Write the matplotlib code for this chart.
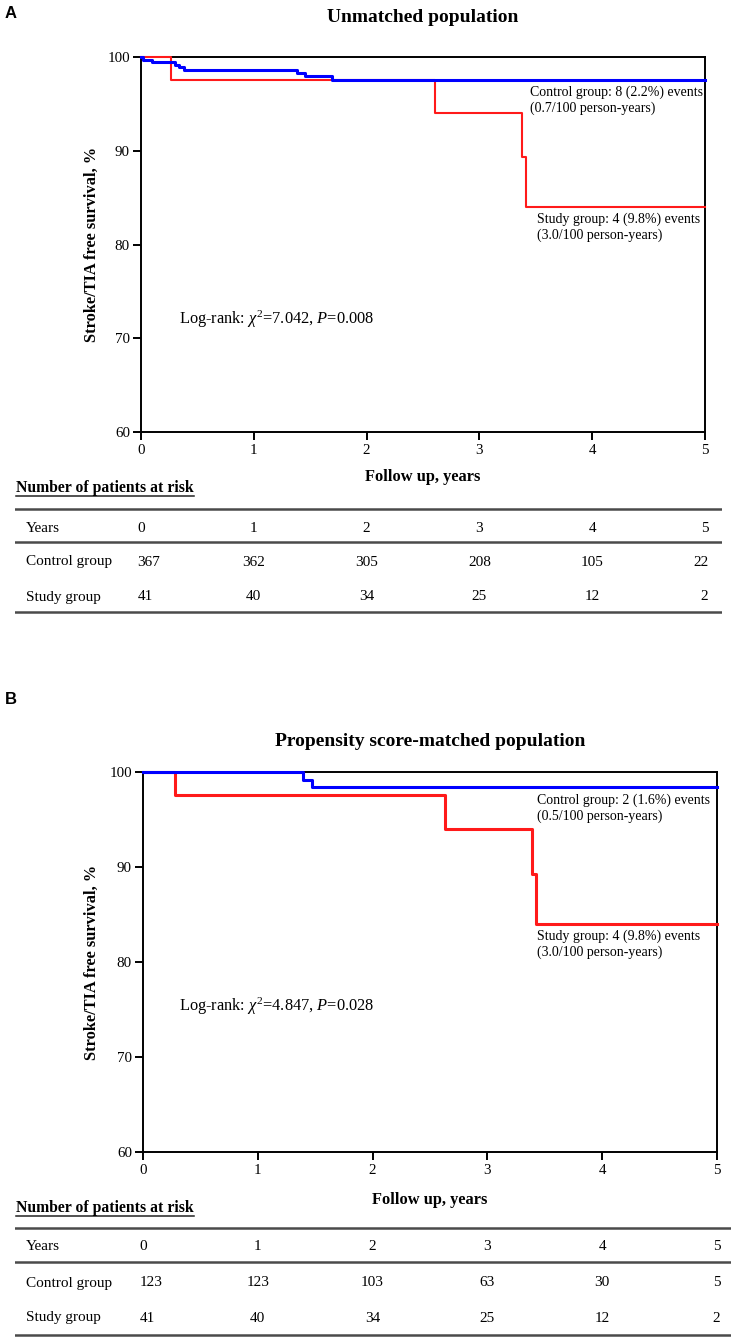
import matplotlib
matplotlib.use("Agg")
import matplotlib.pyplot as plt

plt.rcParams['font.family'] = ['Liberation Serif', 'DejaVu Serif']
plt.rcParams['mathtext.fontset'] = 'custom'
plt.rcParams['mathtext.rm'] = 'Liberation Serif'
plt.rcParams['mathtext.it'] = 'Liberation Serif:italic'
plt.rcParams['mathtext.bf'] = 'Liberation Serif:bold'

# ---- data ----
years = [0, 1, 2, 3, 4, 5]

# panel A, unmatched
ctrl_a_t = [0, 0.02, 0.095, 0.30, 0.34, 0.38, 1.38, 1.45, 1.69, 5.0]
ctrl_a_s = [100, 99.73, 99.46, 99.18, 98.91, 98.64, 98.3, 97.95, 97.6, 97.6]
study_a_t = [0, 0.27, 2.61, 3.38, 3.41, 5.0]
study_a_s = [100, 97.56, 94.0, 89.3, 84.0, 84.0]
risk_ctrl_a = [367, 362, 305, 208, 105, 22]
risk_study_a = [41, 40, 34, 25, 12, 2]

# panel B, propensity matched
ctrl_b_t = [0, 1.39, 1.47, 5.0]
ctrl_b_s = [100, 99.19, 98.37, 98.37]
study_b_t = [0, 0.28, 2.63, 3.39, 3.42, 5.0]
study_b_s = [100, 97.56, 94.0, 89.3, 84.0, 84.0]
risk_ctrl_b = [123, 123, 103, 63, 30, 5]
risk_study_b = [41, 40, 34, 25, 12, 2]

W, H = 733, 1339
fig = plt.figure(figsize=(W / 100, H / 100), dpi=100)


def box(l, t, r, b):
    return [l / W, 1 - b / H, (r - l) / W, (b - t) / H]


def panel(letter, letter_y, title, title_y, ax_px, curves, ctrl_txt, study_txt,
          ctrl_y, study_y, logrank, logrank_y, tbl_px, rows_y, lines_y, risk_c, risk_s,
          red_lw):
    l, t, r, b = ax_px
    ax = fig.add_axes(box(l, t, r, b))
    (ct, cs), (st, ss) = curves
    ax.step(st, ss, where='post', color='#ff1a1a', lw=red_lw, clip_on=False, zorder=5)
    ax.step(ct, cs, where='post', color='#0000ff', lw=2.2, clip_on=False, zorder=6)
    ax.set_xlim(0, 5)
    ax.set_ylim(60, 100)
    ax.set_xticks(years)
    ax.set_yticks([60, 70, 80, 90, 100])
    for s in ax.spines.values():
        s.set_linewidth(1.4)
    ax.tick_params(direction='out', length=6, width=1.4, labelsize=10.8, pad=2)
    ax.tick_params(axis='x', pad=3)
    hgt = b - t
    ax.set_xlabel('Follow up, years', fontsize=11.8, fontweight='bold')
    ax.xaxis.set_label_coords(0.5, -(title_y[1] - b) / hgt)
    ax.xaxis.label.set_va('center')
    ax.set_ylabel('Stroke/TIA free survival, %', fontsize=11.8, fontweight='bold')
    ax.yaxis.set_label_coords(-(l - 92) / (r - l), 0.5)
    ax.yaxis.label.set_va('center')

    fig.text(11 / W, 1 - letter_y / H, letter, family='Liberation Sans',
             fontweight='bold', fontsize=12, ha='center', va='center')
    fig.text((l + r) / 2 / W, 1 - title_y[0] / H, title, fontweight='bold',
             fontsize=14, ha='center', va='center')

    def tx(px):
        return (px - l) / (r - l) * 5

    def ty(py):
        return 60 + (b - py) / hgt * 40

    ax.text(tx(ctrl_txt), ty(ctrl_y), ctrl_lbl[letter], fontsize=10,
            va='center', linespacing=1.25)
    ax.text(tx(study_txt), ty(study_y), study_lbl[letter], fontsize=10,
            va='center', linespacing=1.25)
    ax.text(tx(179), ty(logrank_y), logrank, fontsize=11.8, va='center')

    # number at risk table
    tl, tt, tr, tb = tbl_px
    tax = fig.add_axes(box(tl, tt, tr, tb))
    tax.set_axis_off()
    tax.set_xlim(tx(tl), tx(tr))
    tax.set_ylim(tb, tt)
    hdr = tax.text(tx(16), rows_y[0], 'Number of patients at risk', fontsize=11.3,
                   fontweight='bold', va='center')
    fig.canvas.draw()
    bb = hdr.get_window_extent().transformed(tax.transData.inverted())
    tax.plot([bb.x0, bb.x1], [rows_y[0] + 8, rows_y[0] + 8], color='#222222', lw=1.1)
    for y in lines_y:
        tax.axhline(y, color='#4a4a4a', lw=1.8)
    names = ['Years', 'Control group', 'Study group']
    vals = [years, risk_c, risk_s]
    for name, yy, row in zip(names, rows_y[1:], vals):
        tax.text(tx(26), yy, name, fontsize=11, va='center')
        for k, v in enumerate(row):
            if k == 0:
                tax.text(k - 0.03, yy, str(v), fontsize=11, va='center', ha='left')
            elif k == len(row) - 1:
                tax.text(k + 0.03, yy, str(v), fontsize=11, va='center', ha='right')
            else:
                tax.text(k, yy, str(v), fontsize=11, va='center', ha='center')
    return ax


ctrl_lbl = {'A': 'Control group: 8 (2.2%) events\n(0.7/100 person-years)',
            'B': 'Control group: 2 (1.6%) events\n(0.5/100 person-years)'}
study_lbl = {'A': 'Study group: 4 (9.8%) events\n(3.0/100 person-years)',
             'B': 'Study group: 4 (9.8%) events\n(3.0/100 person-years)'}

panel('A', 13, 'Unmatched population', (17, 477), (141, 57, 705, 432),
      ((ctrl_a_t, ctrl_a_s), (study_a_t, study_a_s)), 530, 537, 100, 227,
      r'Log-rank: $\chi^2$=7.042, $P$=0.008', 319,
      (15, 478, 722, 620), [488, 528, 562, 597], [509, 542, 612],
      risk_ctrl_a, risk_study_a, 1.5)

panel('B', 700, 'Propensity score-matched population', (742, 1200), (143, 772, 717, 1152),
      ((ctrl_b_t, ctrl_b_s), (study_b_t, study_b_s)), 537, 537, 808, 944,
      r'Log-rank: $\chi^2$=4.847, $P$=0.028', 1006,
      (15, 1198, 731, 1339), [1208, 1247, 1283, 1318], [1228, 1262, 1335],
      risk_ctrl_b, risk_study_b, 2.2)

fig.savefig('out.png', dpi=100)
